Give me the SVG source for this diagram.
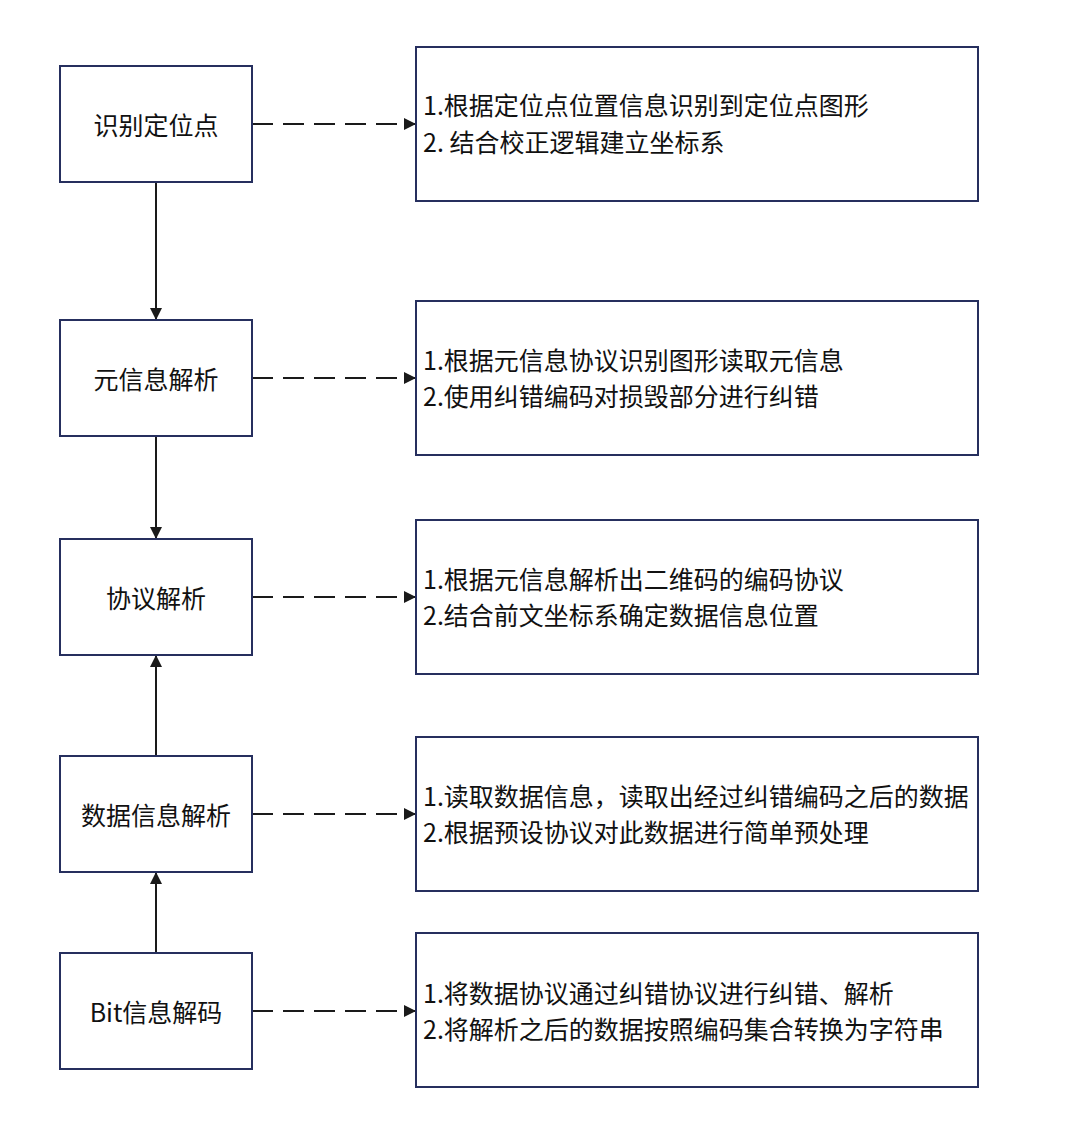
<svg xmlns="http://www.w3.org/2000/svg" width="1080" height="1144" viewBox="0 0 1080 1144">
<defs>
<style>
.box{fill:#fff;stroke:#262f5e;stroke-width:2}
.lbl{font-family:"Noto Sans CJK SC","Noto Sans",sans-serif;font-size:25px;fill:#111;text-anchor:middle;dominant-baseline:central}
.desc{font-family:"Noto Sans CJK SC","Noto Sans",sans-serif;font-size:25px;fill:#111}
.solid{stroke:#1a1a1a;stroke-width:2;fill:none}
.dash{stroke:#1a1a1a;stroke-width:2;fill:none;stroke-dasharray:21 10}
</style>
<marker id="ah" viewBox="0 0 12 12" refX="12" refY="6" markerWidth="12" markerHeight="12" markerUnits="userSpaceOnUse" orient="auto">
<path d="M0,0 L12,6 L0,12 Z" fill="#1a1a1a"/>
</marker>
</defs>
<rect width="1080" height="1144" fill="#fff"/>
<g id="connectors">
<line class="solid" x1="156" y1="182" x2="156" y2="320" marker-end="url(#ah)"/>
<line class="solid" x1="156" y1="436" x2="156" y2="539" marker-end="url(#ah)"/>
<line class="solid" x1="156" y1="756" x2="156" y2="655" marker-end="url(#ah)"/>
<line class="solid" x1="156" y1="953" x2="156" y2="872" marker-end="url(#ah)"/>
<line class="dash" x1="252" y1="124" x2="416" y2="124" marker-end="url(#ah)"/>
<line class="dash" x1="252" y1="378" x2="416" y2="378" marker-end="url(#ah)"/>
<line class="dash" x1="252" y1="597" x2="416" y2="597" marker-end="url(#ah)"/>
<line class="dash" x1="252" y1="814" x2="416" y2="814" marker-end="url(#ah)"/>
<line class="dash" x1="252" y1="1011" x2="416" y2="1011" marker-end="url(#ah)"/>
</g>
<g id="n1"><rect class="box" x="60" y="66" width="192" height="116"/><text class="lbl" x="156" y="124">识别定位点</text></g>
<g id="n2"><rect class="box" x="60" y="320" width="192" height="116"/><text class="lbl" x="156" y="378">元信息解析</text></g>
<g id="n3"><rect class="box" x="60" y="539" width="192" height="116"/><text class="lbl" x="156" y="597">协议解析</text></g>
<g id="n4"><rect class="box" x="60" y="756" width="192" height="116"/><text class="lbl" x="156" y="814">数据信息解析</text></g>
<g id="n5"><rect class="box" x="60" y="953" width="192" height="116"/><text class="lbl" x="156" y="1011">Bit信息解码</text></g>
<g id="d1"><rect class="box" x="416" y="47" width="562" height="154"/>
<text class="desc" x="423" y="115">1.根据定位点位置信息识别到定位点图形</text>
<text class="desc" x="423" y="152">2. 结合校正逻辑建立坐标系</text></g>
<g id="d2"><rect class="box" x="416" y="301" width="562" height="154"/>
<text class="desc" x="423" y="370">1.根据元信息协议识别图形读取元信息</text>
<text class="desc" x="423" y="406">2.使用纠错编码对损毁部分进行纠错</text></g>
<g id="d3"><rect class="box" x="416" y="520" width="562" height="154"/>
<text class="desc" x="423" y="589">1.根据元信息解析出二维码的编码协议</text>
<text class="desc" x="423" y="625">2.结合前文坐标系确定数据信息位置</text></g>
<g id="d4"><rect class="box" x="416" y="737" width="562" height="154"/>
<text class="desc" x="423" y="806">1.读取数据信息，读取出经过纠错编码之后的数据</text>
<text class="desc" x="423" y="842">2.根据预设协议对此数据进行简单预处理</text></g>
<g id="d5"><rect class="box" x="416" y="933" width="562" height="154"/>
<text class="desc" x="423" y="1003">1.将数据协议通过纠错协议进行纠错、解析</text>
<text class="desc" x="423" y="1039">2.将解析之后的数据按照编码集合转换为字符串</text></g>
</svg>
